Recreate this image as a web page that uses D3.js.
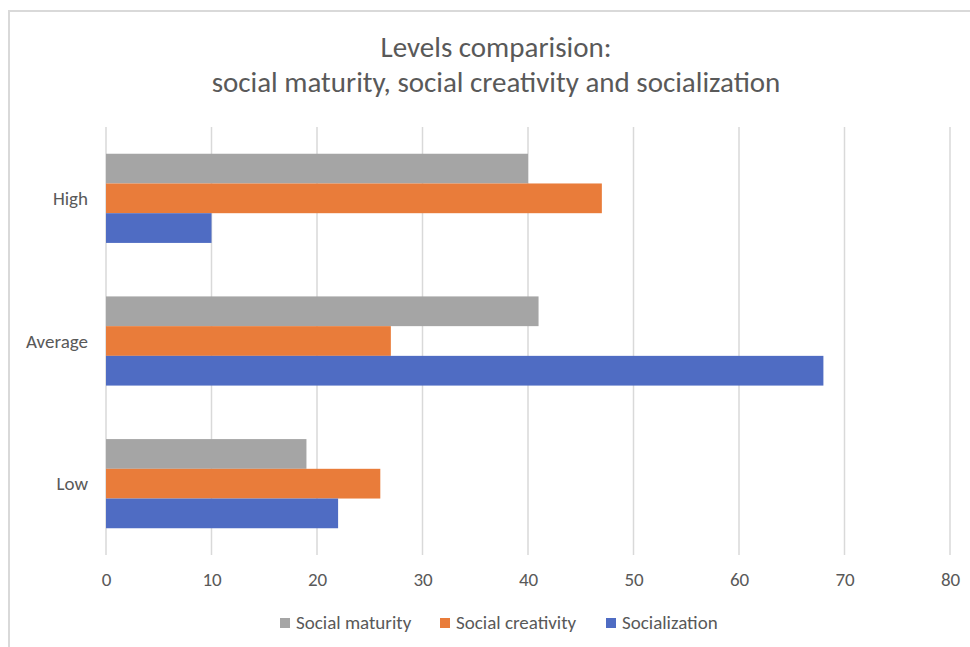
<!DOCTYPE html>
<html>
<head>
<meta charset="utf-8">
<script src="https://cdn.jsdelivr.net/npm/d3@7"></script>
<style>
  html, body { margin: 0; padding: 0; background: #fff; }
  svg { display: block; }
  text { font-family: Carlito, Lato, "Open Sans", sans-serif; fill: #595959; }
</style>
</head>
<body>
<svg id="chart" width="970" height="647"></svg>
<script>
// Levels per category, one array per series
const categories = ["High", "Average", "Low"];
const seriesNames = ["Social maturity", "Social creativity", "Socialization"];
const socialMaturity = [40, 41, 19];
const socialCreativity = [47, 27, 26];
const socialization = [10, 68, 22];
const xTicks = [0, 10, 20, 30, 40, 50, 60, 70, 80];
const titleLines = ["Levels comparision:", "social maturity, social creativity and socialization"];
const colors = ["#A5A5A5", "#E97C3A", "#4F6CC3"];

const seriesValues = [socialMaturity, socialCreativity, socialization];
const rows = categories.map((c, i) => ({
  category: c,
  values: seriesNames.map((s, j) => ({ series: s, value: seriesValues[j][i], color: colors[j] }))
}));

const labelFont = "19px";
const svg = d3.select("#chart");

// chart area frame
svg.append("rect")
  .attr("x", 9).attr("y", 11)
  .attr("width", 980).attr("height", 660)
  .attr("fill", "#fff")
  .attr("stroke", "#d9d9d9").attr("stroke-width", 2);

const plot = { left: 106, right: 950, top: 127, bottom: 555 };

const x = d3.scaleLinear().domain([0, 80]).range([plot.left, plot.right]);
const y = d3.scaleBand().domain(categories)
  .range([plot.top, plot.bottom])
  .paddingInner(0.375).paddingOuter(0.1875);
const ySub = d3.scaleBand().domain(seriesNames).range([0, y.bandwidth()]);

// vertical gridlines
svg.append("g")
  .selectAll("line")
  .data(xTicks)
  .join("line")
  .attr("x1", d => x(d)).attr("x2", d => x(d))
  .attr("y1", plot.top).attr("y2", plot.bottom)
  .attr("stroke", "#d9d9d9").attr("stroke-width", 1.5);

// bars
const groups = svg.append("g")
  .selectAll("g")
  .data(rows)
  .join("g")
  .attr("transform", d => `translate(0,${y(d.category)})`);

groups.selectAll("rect")
  .data(d => d.values)
  .join("rect")
  .attr("x", x(0))
  .attr("y", d => ySub(d.series))
  .attr("width", d => x(d.value) - x(0))
  .attr("height", ySub.bandwidth())
  .attr("fill", d => d.color);

// x axis tick labels
const xAxis = d3.axisBottom(x).tickValues(xTicks).tickSize(0).tickPadding(0);
const gx = svg.append("g")
  .attr("transform", `translate(0,${plot.bottom + 31})`)
  .call(xAxis);
gx.select(".domain").remove();
gx.selectAll("text")
  .attr("dy", 0)
  .style("font-size", labelFont)
  .style("font-family", "Carlito, Lato, 'Open Sans', sans-serif")
  .attr("fill", "#595959");

// category labels
const yAxis = d3.axisLeft(y).tickSize(0).tickPadding(0);
const gy = svg.append("g")
  .attr("transform", `translate(${plot.left - 18},0)`)
  .call(yAxis);
gy.select(".domain").remove();
gy.selectAll("text")
  .attr("dy", "0.35em")
  .style("font-size", labelFont)
  .style("font-family", "Carlito, Lato, 'Open Sans', sans-serif")
  .attr("fill", "#595959");

// title
svg.append("g")
  .selectAll("text")
  .data(titleLines)
  .join("text")
  .attr("x", 496)
  .attr("y", (d, i) => 57 + i * 35)
  .attr("text-anchor", "middle")
  .style("font-size", "29px")
  .text(d => d);

// legend
const legendX = [280, 440, 606];
const legend = svg.append("g")
  .selectAll("g")
  .data(seriesNames)
  .join("g")
  .attr("transform", (d, i) => `translate(${legendX[i]},${618})`);
legend.append("rect")
  .attr("width", 10).attr("height", 10)
  .attr("fill", (d, i) => colors[i]);
legend.append("text")
  .attr("x", 16).attr("y", 11)
  .style("font-size", labelFont)
  .text(d => d);
</script>
</body>
</html>
